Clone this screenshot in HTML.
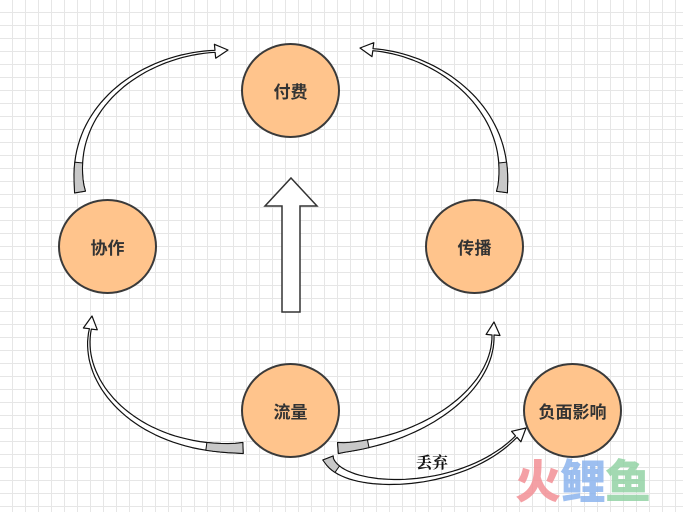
<!DOCTYPE html>
<html><head><meta charset="utf-8"><style>
html,body{margin:0;padding:0}
body{width:683px;height:501px;overflow:hidden;position:relative;background:#fff;
background-image:linear-gradient(#e6e6e6 1px,transparent 1px),linear-gradient(90deg,#e6e6e6 1px,transparent 1px);
background-size:13px 13px;background-position:-1px -1px;font-family:"Liberation Sans","Noto Sans CJK SC",sans-serif}
.c{position:absolute;width:99px;height:95px;border:2px solid #3a3a3a;border-radius:50%;background:#ffc48c;box-sizing:border-box;display:flex;align-items:center;justify-content:center;font-weight:bold;font-size:17px;color:#333}
svg{position:absolute;left:0;top:0}
.wm{position:absolute;left:515px;top:456px;font-size:46px;font-weight:900;font-family:"Noto Sans CJK SC",sans-serif;letter-spacing:-1px;line-height:46px;opacity:0.85}
</style></head><body>
<div class="c" style="left:241px;top:43px">付费</div>
<div class="c" style="left:58px;top:199px">协作</div>
<div class="c" style="left:425px;top:199px">传播</div>
<div class="c" style="left:241px;top:363px">流量</div>
<div class="c" style="left:523px;top:363px">负面影响</div>
<svg id="s" width="683" height="501">
<polygon points="291,178 317,206 300,206 300,312 282,312 282,206 265,206" fill="#fff" stroke="#333" stroke-width="1.5"/>
<text x="416" y="468" font-family="'Noto Serif CJK SC',serif" font-size="16" font-weight="bold" fill="#111">丢弃</text>
</svg>
<div class="wm"><span style="color:#f39096">火</span><span style="color:#8db5ee">鲤</span><span style="color:#93d3a5">鱼</span></div>
<script>
var s=document.getElementById('s'),NS='http://www.w3.org/2000/svg';
function bz(p,t){var u=1-t;return[u*u*u*p[0][0]+3*u*u*t*p[1][0]+3*u*t*t*p[2][0]+t*t*t*p[3][0],u*u*u*p[0][1]+3*u*u*t*p[1][1]+3*u*t*t*p[2][1]+t*t*t*p[3][1]];}
function arrow(p){var N=40,L=[],R=[],w0=11,w1=2,hl=13,hw=7;
var end=p[3],pre=bz(p,0.93),dx=end[0]-pre[0],dy=end[1]-pre[1],d=Math.hypot(dx,dy);dx/=d;dy/=d;
var neck=[end[0]-dx*hl,end[1]-dy*hl];var q=[p[0],p[1],p[2],neck];
for(var i=0;i<=N;i++){var t=i/N,a=bz(q,t),b=bz(q,Math.min(1,t+0.01)),c=bz(q,Math.max(0,t-0.01));
var tx=b[0]-c[0],ty=b[1]-c[1],tl=Math.hypot(tx,ty);var nx=-ty/tl,ny=tx/tl;var w=(w0+(w1-w0)*Math.sqrt(t))/2;
L.push([a[0]+nx*w,a[1]+ny*w]);R.push([a[0]-nx*w,a[1]-ny*w]);}
var nx=-dy,ny=dx;var pts=L.concat([[neck[0]+nx*hw,neck[1]+ny*hw],end,[neck[0]-nx*hw,neck[1]-ny*hw]],R.reverse());
var e=document.createElementNS(NS,'polygon');e.setAttribute('points',pts.map(function(v){return v[0].toFixed(1)+','+v[1].toFixed(1)}).join(' '));
e.setAttribute('fill','#fff');e.setAttribute('stroke','#111');e.setAttribute('stroke-width','1.2');e.setAttribute('stroke-linejoin','round');s.insertBefore(e,s.firstChild);
var g=L.slice(0,6).concat(R.slice(R.length-6));var e2=document.createElementNS(NS,'polygon');
e2.setAttribute('points',g.map(function(v){return v.join(',')}).join(' '));e2.setAttribute('fill','#c8c8c8');e2.setAttribute('stroke','#111');e2.setAttribute('stroke-width','1');
s.insertBefore(e2,e.nextSibling);}
arrow([[80,192],[66,110],[140,55],[228,50]]);
arrow([[502,192],[514,110],[440,55],[360,48]]);
arrow([[243,448],[140,452],[78,385],[92,316]]);
arrow([[338,448],[420,442],[494,392],[494,322]]);
arrow([[328,458],[340,492],[460,494],[526,428]]);
</script>
</body></html>
